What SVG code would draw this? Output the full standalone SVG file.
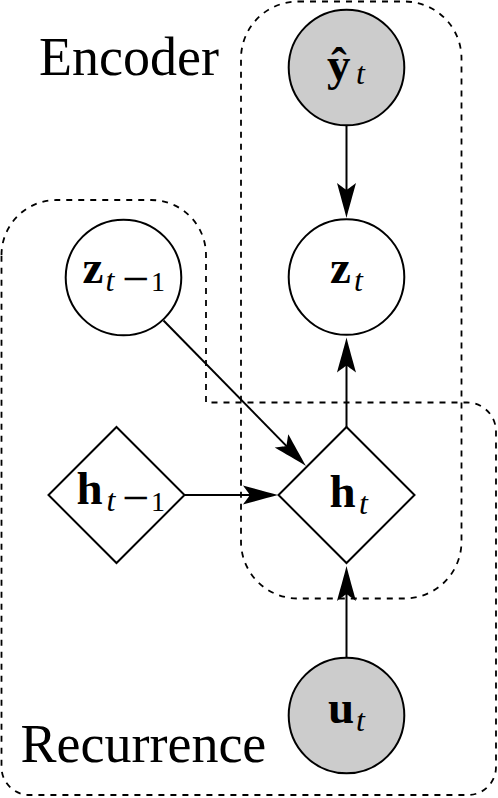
<svg xmlns="http://www.w3.org/2000/svg" width="498" height="798" viewBox="0 0 498 798">
<style>
.region{fill:none;stroke:#000;stroke-width:1.8;stroke-dasharray:6 6}
.node{stroke:#000;stroke-width:2;fill:#fff}
.obs{fill:#cccccc}
.edge{stroke:#000;stroke-width:2;fill:none;marker-end:url(#arr)}
.lbl{font-family:"Liberation Serif",serif;font-size:54px;fill:#000}
.m{font-family:"Liberation Serif",serif;font-weight:bold;font-size:47px;fill:#000}
.s{font-family:"Liberation Serif",serif;font-style:italic;font-weight:normal;font-size:32px}
.n{font-family:"Liberation Serif",serif;font-style:normal;font-weight:normal;font-size:28px}
.mn{font-family:"Liberation Serif",serif;font-style:normal;font-weight:normal;font-size:48px}
</style>
<defs>
<marker id="arr" viewBox="-40 -12 42 24" markerWidth="42" markerHeight="24" markerUnits="userSpaceOnUse" refX="-18" refY="0" orient="auto">
<path d="M0 0 C-10 -2.5 -24 -6.5 -35 -9.5 C-31 -4 -29 -1.5 -28 0 C-29 1.5 -31 4 -35 9.5 C-24 6.5 -10 2.5 0 0 Z" fill="#000"/>
</marker>
</defs>
<g id="regions">
<path id="recurrence-region" class="region" d="M1.5 255 A55 55 0 0 1 56.5 200 L151 200 A55 55 0 0 1 206 255 L206 402.5 L467 402.5 A29 29 0 0 1 496 431.5 L496 767 A28 28 0 0 1 468 795 L29.5 795 A28 28 0 0 1 1.5 767 Z"/>
<rect id="encoder-region" class="region" x="241" y="1.5" width="220.5" height="597" rx="57" ry="57"/>
<text class="lbl" x="39" y="75">Encoder</text>
<text class="lbl" x="20.5" y="761.5">Recurrence</text>
</g>
<g id="connectors">
<line class="edge" x1="346.5" y1="125.5" x2="346.5" y2="200"/>
<line class="edge" x1="346.5" y1="427" x2="346.5" y2="355.5"/>
<line class="edge" x1="346.5" y1="657" x2="346.5" y2="584"/>
<line class="edge" x1="185" y1="495" x2="260" y2="495"/>
<line class="edge" x1="163.5" y1="320.5" x2="293.4" y2="453.1"/>
</g>
<g id="node-yhat">
<circle class="node obs" cx="346.5" cy="67.5" r="57.8"/>
<text class="m"><tspan x="327" y="80">ŷ</tspan><tspan class="s" x="356" y="84">t</tspan></text>
</g>
<g id="node-zt">
<circle class="node" cx="346.5" cy="277" r="57.8"/>
<text class="m"><tspan x="330" y="283.3">z</tspan><tspan class="s" x="354" y="290.5">t</tspan></text>
</g>
<g id="node-zt1">
<circle class="node" cx="123.5" cy="277.5" r="57.8"/>
<text class="m"><tspan x="82.5" y="283.3">z</tspan><tspan class="s" x="105.5" y="290.5">t</tspan><tspan class="mn" x="122" y="294.7">−</tspan><tspan class="n" x="151" y="290.5">1</tspan></text>
</g>
<g id="node-ht1">
<polygon class="node" points="116.5,427 184.5,495 116.5,563 48.5,495"/>
<text class="m"><tspan x="76.5" y="504">h</tspan><tspan class="s" x="106.5" y="511">t</tspan><tspan class="mn" x="122" y="513.7">−</tspan><tspan class="n" x="151" y="511">1</tspan></text>
</g>
<g id="node-ht">
<polygon class="node" points="346.5,427 414.5,495 346.5,563 278.5,495"/>
<text class="m"><tspan x="329.5" y="507.3">h</tspan><tspan class="s" x="359" y="514">t</tspan></text>
</g>
<g id="node-ut">
<circle class="node obs" cx="346.5" cy="715.5" r="57.8"/>
<text class="m"><tspan x="328" y="723.3">u</tspan><tspan class="s" x="356" y="730.5">t</tspan></text>
</g>
</svg>
